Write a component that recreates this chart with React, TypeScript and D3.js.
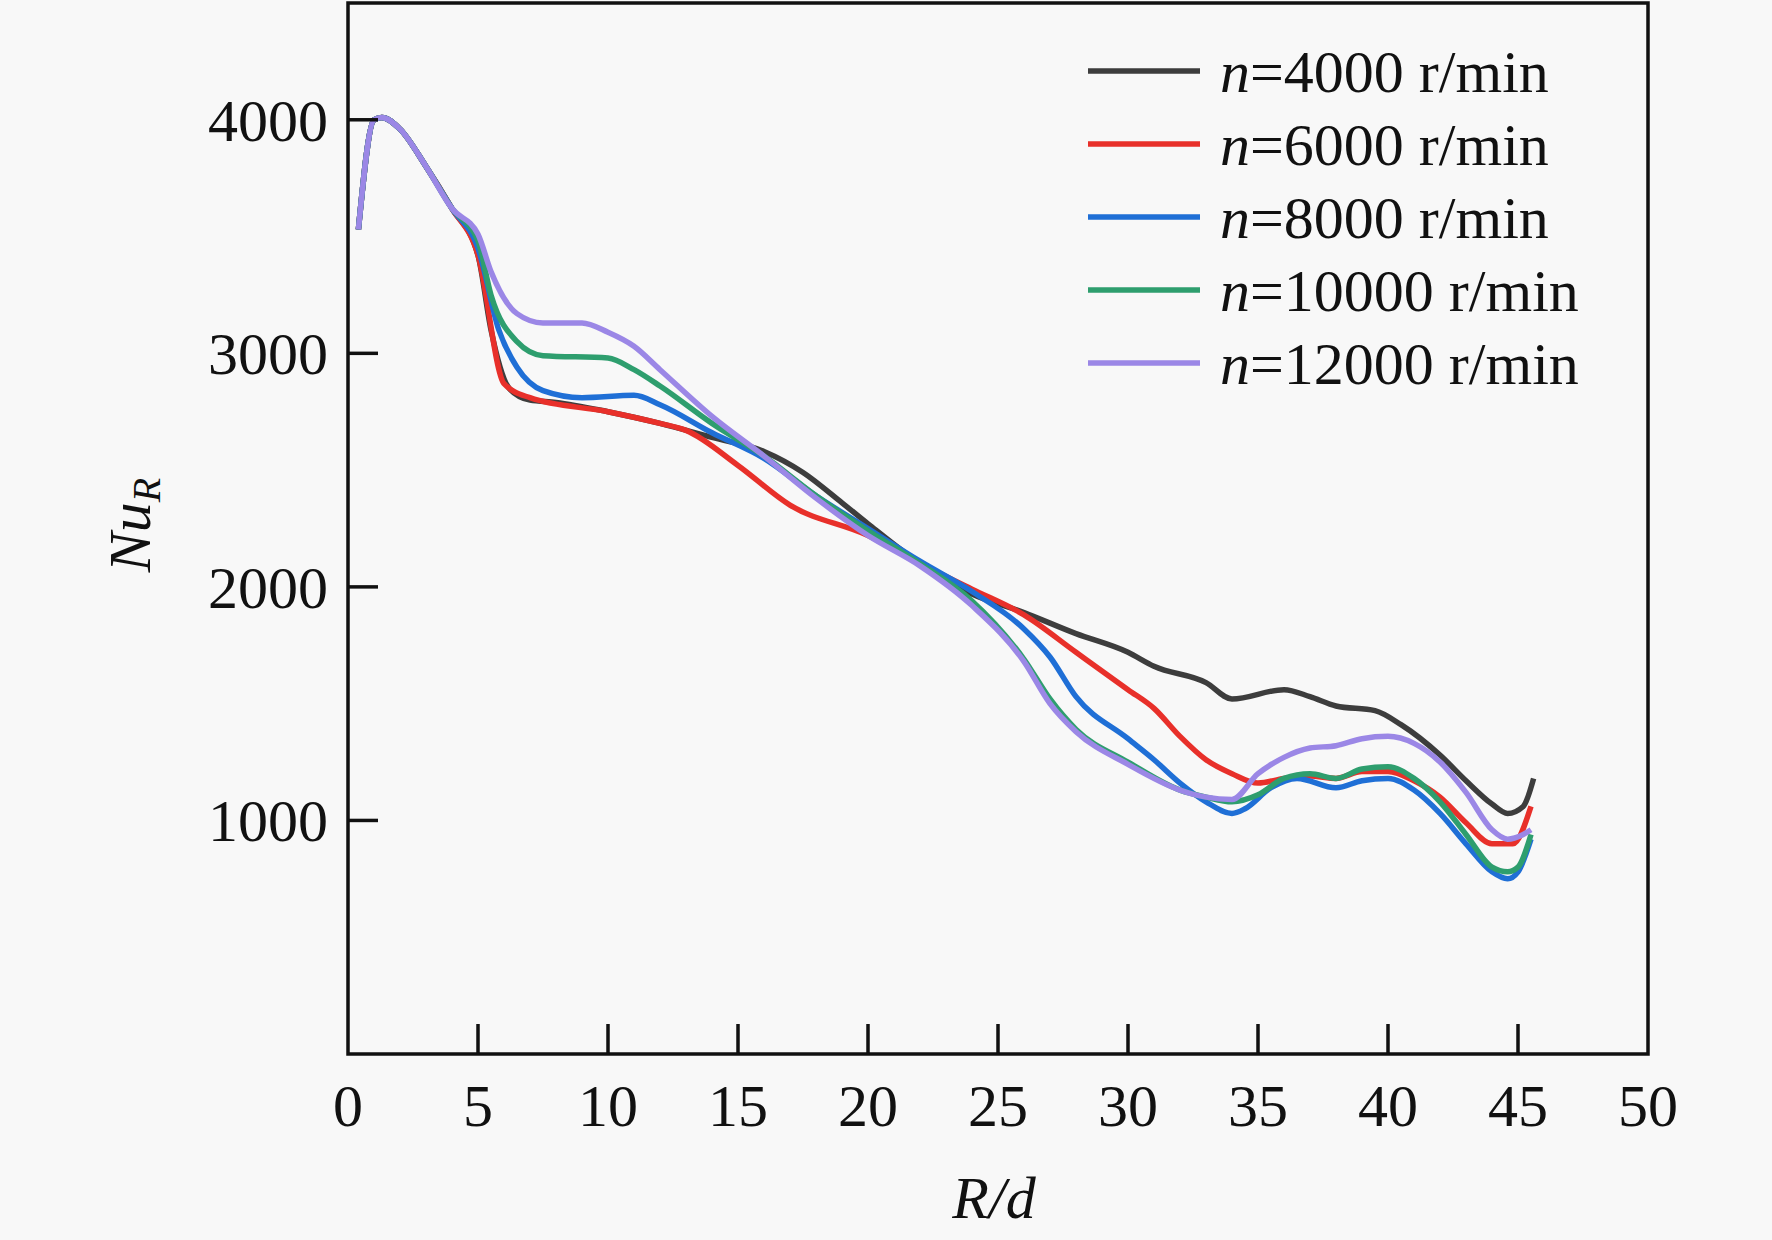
import React from 'react';
import * as d3 from 'd3';

const W = 1772;
const H = 1240;
const margin = { top: 3, right: 124, bottom: 186, left: 348 };

const xTicks = [0, 5, 10, 15, 20, 25, 30, 35, 40, 45, 50];
const yTicks = [1000, 2000, 3000, 4000];

const head: [number, number][] = [[0.4, 3530], [1, 4000], [1.3, 4010], [2, 3960], [3, 3800], [4, 3620]];

const s4000: [number, number][] = [...head, [5, 3420], [5.5, 3100], [6.2, 2850], [7, 2800], [8, 2790], [10, 2750], [12, 2700], [14, 2640], [16, 2580], [17.5, 2490], [19, 2360], [20, 2270], [22, 2100], [24, 1970], [26, 1890], [28, 1800], [30, 1720], [31, 1660], [33, 1590], [34, 1520], [36, 1560], [37, 1530], [38, 1490], [39.5, 1470], [40.5, 1410], [42, 1280], [43, 1170], [44, 1070], [44.6, 1030], [45.2, 1060], [45.6, 1180]];
const s6000: [number, number][] = [...head, [5, 3420], [6, 2870], [7, 2810], [10, 2750], [12, 2700], [13, 2670], [15, 2520], [17, 2350], [20, 2220], [22, 2100], [24, 1990], [26, 1880], [28, 1720], [30, 1560], [31, 1480], [32, 1360], [33, 1260], [34, 1200], [35, 1160], [36, 1180], [37, 1190], [38, 1180], [39, 1210], [40, 1210], [41, 1170], [42, 1100], [43, 990], [44, 900], [44.8, 900], [45.5, 1060]];
const s8000: [number, number][] = [...head, [5, 3450], [5.8, 3100], [6.5, 2940], [7.5, 2840], [9, 2810], [11, 2820], [12, 2780], [14, 2660], [16, 2550], [18, 2390], [20, 2250], [22, 2110], [24, 1980], [26, 1820], [27, 1700], [28, 1530], [30, 1350], [31, 1260], [32, 1160], [33, 1080], [34, 1030], [34.5, 1050], [35.5, 1140], [36.5, 1180], [38, 1140], [39, 1170], [40, 1180], [41, 1130], [42, 1030], [43, 900], [44, 780], [44.6, 750], [45, 780], [45.5, 920]];
const s10000: [number, number][] = [...head, [5, 3480], [5.5, 3250], [6.5, 3050], [7.5, 2990], [10, 2980], [11, 2930], [12, 2860], [14, 2700], [16, 2560], [18, 2390], [20, 2240], [22, 2100], [24, 1940], [26, 1690], [27, 1520], [28, 1390], [30, 1250], [32, 1130], [33, 1100], [34, 1080], [35, 1110], [36, 1180], [37, 1200], [38, 1180], [39, 1220], [40, 1230], [41, 1180], [42, 1080], [43, 940], [44, 800], [44.6, 780], [45, 800], [45.5, 940]];
const s12000: [number, number][] = [...head, [5, 3510], [5.5, 3350], [6.5, 3170], [7.5, 3130], [9, 3130], [10, 3090], [11, 3030], [12, 2930], [14, 2730], [16, 2560], [18, 2380], [20, 2220], [22, 2090], [24, 1920], [26, 1680], [27, 1500], [28, 1380], [30, 1240], [32, 1130], [33, 1100], [34, 1090], [35, 1200], [36, 1270], [37, 1310], [38, 1320], [39, 1350], [40, 1360], [41, 1330], [42, 1250], [43, 1120], [44, 960], [44.6, 920], [45.2, 940], [45.5, 960]];

const series = [
  { label: '=4000 r/min', color: '#3d3d3d', data: s4000 },
  { label: '=6000 r/min', color: '#e8302a', data: s6000 },
  { label: '=8000 r/min', color: '#1f6fd6', data: s8000 },
  { label: '=10000 r/min', color: '#2e9e6e', data: s10000 },
  { label: '=12000 r/min', color: '#9b87e6', data: s12000 },
];

export default function App() {
  const iw = W - margin.left - margin.right;
  const ih = H - margin.top - margin.bottom;
  const x = d3.scaleLinear().domain([0, 50]).range([0, iw]);
  const y = d3.scaleLinear().domain([0, 4500]).range([ih, 0]);
  const line = d3.line<[number, number]>().x(d => x(d[0])).y(d => y(d[1])).curve(d3.curveMonotoneX);
  const font = '"Liberation Serif", "Times New Roman", serif';

  return (
    <svg width={W} height={H} style={{ position: 'absolute', left: 0, top: 0, background: '#f8f8f8', fontFamily: font }}>
      <rect width={W} height={H} fill="#f8f8f8" />
      <g transform={`translate(${margin.left},${margin.top})`}>
        {series.map(s => (
          <path key={s.label} d={line(s.data) || ''} fill="none" stroke={s.color} strokeWidth={5.5} strokeLinejoin="round" />
        ))}
        <rect x={0} y={0} width={iw} height={ih} fill="none" stroke="#111" strokeWidth={3.5} />
        {xTicks.map(t => (
          <g key={t} transform={`translate(${x(t)},${ih})`}>
            {t > 0 && t < 50 && <line y1={0} y2={-30} stroke="#111" strokeWidth={3.5} />}
            <text y={72} textAnchor="middle" fontSize={60} fill="#111">{t}</text>
          </g>
        ))}
        {yTicks.map(t => (
          <g key={t} transform={`translate(0,${y(t)})`}>
            <line x1={0} x2={30} stroke="#111" strokeWidth={3.5} />
            <text x={-20} dy="0.35em" textAnchor="end" fontSize={60} fill="#111">{t}</text>
          </g>
        ))}
        {series.map((s, i) => (
          <g key={s.label} transform={`translate(${1088 - margin.left},${71 + i * 73 - margin.top})`}>
            <line x1={0} x2={112} stroke={s.color} strokeWidth={5.5} />
            <text x={132} dy="0.35em" fontSize={60} fill="#111"><tspan fontStyle="italic">n</tspan>{s.label}</text>
          </g>
        ))}
      </g>
      <text x={994} y={1218} textAnchor="middle" fontSize={60} fill="#111" fontStyle="italic">R/d</text>
      <text transform="translate(150,525) rotate(-90)" textAnchor="middle" fontSize={60} fill="#111" fontStyle="italic">
        Nu<tspan fontSize={40} dy={10}>R</tspan>
      </text>
    </svg>
  );
}
